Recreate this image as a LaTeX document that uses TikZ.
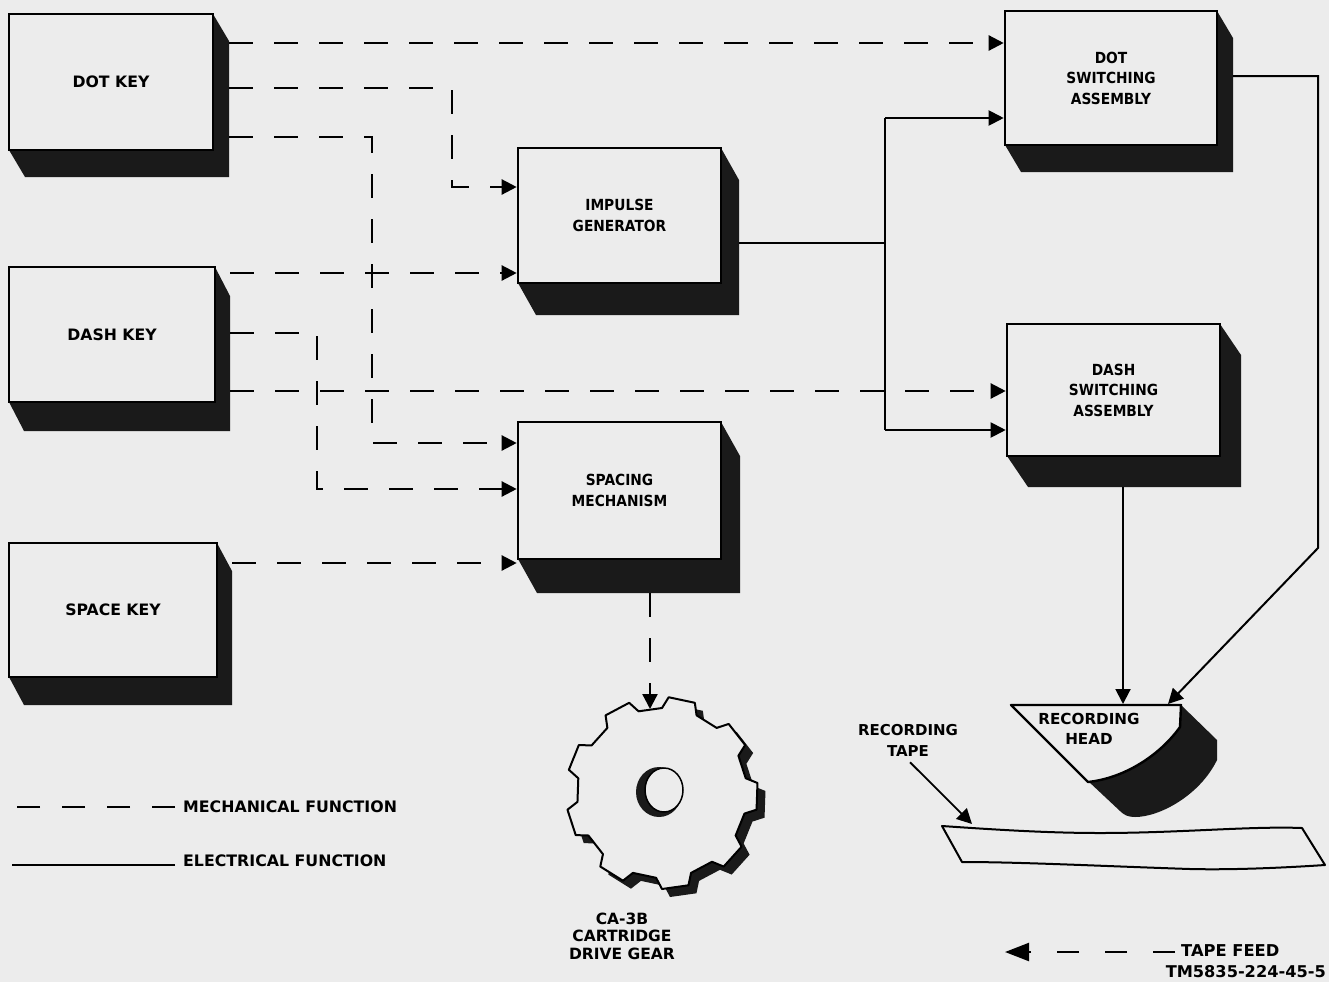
\documentclass[tikz,border=0pt]{standalone}
\usepackage{fontspec}
\setmainfont{DejaVu Sans}
\newfontfamily\boxfont{DejaVu Sans}[FakeStretch=0.9]
\usetikzlibrary{arrows.meta,calc}
\definecolor{bgc}{RGB}{236,236,236}
\definecolor{shc}{RGB}{26,26,26}
\tikzset{
  face/.style={draw=black, line width=2.6pt, fill=bgc, inner sep=0pt, align=center,
    font=\boxfont\bfseries\fontsize{15.3}{20.5}\selectfont},
  keyf/.style={font=\bfseries\fontsize{15.7}{19}\selectfont},
  mech/.style={draw=black, line width=2.3pt, dash pattern=on 24pt off 21pt},
  elec/.style={draw=black, line width=2pt},
  tip/.style={-{Triangle[length=15pt,width=15pt]}},
  lab/.style={font=\bfseries\fontsize{15.8}{18}\selectfont, inner sep=0pt, align=center},
}
% name, x1, y1, x2, y2, dx, dy, extra options, text
\newcommand{\kbox}[9]{%
  \fill[shc] (#4,#3) -- ({#4+#6},{#3+#7}) -- ({#4+#6},{#5+#7}) -- ({#2+#6},{#5+#7}) -- (#2,#5) -- cycle;
  \node[face, minimum width={(#4-#2)*1pt}, minimum height={(#5-#3)*1pt}, #8] (#1) at ({(#2+#4)/2},{(#3+#5)/2}) {#9};
  \coordinate (#1-se) at ({#4+#6},{#5+#7});
}
\begin{document}
\begin{tikzpicture}[x=1pt,y=-1pt]
\useasboundingbox (0,0) rectangle (1329,982);
\fill[bgc] (0,0) rectangle (1329,982);

% boxes
\kbox{dotkey}{9}{14}{213}{150}{16}{27}{keyf}{DOT KEY}
\kbox{dashkey}{9}{267}{215}{402}{15}{29}{keyf}{DASH KEY}
\kbox{spacekey}{9}{543}{217}{677}{15}{28}{keyf}{SPACE KEY}
\kbox{imp}{518}{148}{721}{283}{18}{32}{}{IMPULSE\\GENERATOR}
\kbox{spc}{518}{422}{721}{559}{19}{34}{}{SPACING\\MECHANISM}
\kbox{dotsw}{1005}{11}{1217}{145}{16}{27}{}{DOT\\SWITCHING\\ASSEMBLY}
\kbox{dashsw}{1007}{324}{1220}{456}{21}{31}{}{DASH\\SWITCHING\\ASSEMBLY}

% recording head
\fill[shc] (1181,705) -- (1217,740) -- (1217,760) .. controls (1200,795) and (1160,817) .. (1135,817) .. controls (1128,817) and (1124,815) .. (1120,811) -- (1088,781) -- cycle;
\filldraw[fill=bgc, line width=2.4pt, line join=round] (1011,705) -- (1181,705) -- (1180,727) .. controls (1160,755) and (1125,778) .. (1088,782) -- cycle;
\node[lab, font=\bfseries\fontsize{15.2}{20}\selectfont] (head) at (1089,729) {RECORDING\\HEAD};
\coordinate (headM) at (1123,704);
\coordinate (headR) at (1168,704);

% recording tape
\filldraw[fill=bgc, line width=2pt, line join=round] (942,826) .. controls (1000,830) and (1050,833) .. (1100,833) .. controls (1180,833) and (1250,826) .. (1302,828) -- (1325,865) .. controls (1280,868) and (1230,870) .. (1190,869) .. controls (1100,866) and (1020,862) .. (962,862) -- cycle;
\coordinate (tapetop) at (972,824);
\node[lab, font=\bfseries\fontsize{15}{21}\selectfont] (rtape) at (908,740) {RECORDING\\TAPE};
\draw[elec, line width=1.8pt, tip] ($(rtape.south)+(2,6)$) -- (tapetop);

% gear
\begin{scope}[shift={(670,801)}]
\fill[shc] (250:96) \foreach \a in {262,302,...,582} { -- ({\a-12}:96) -- ({\a-8}:85) -- ({\a+8}:85) -- ({\a+12}:96) } -- cycle;
\end{scope}
\begin{scope}[shift={(662,793)}]
\filldraw[fill=bgc, line width=2pt, line join=round] (250:96) \foreach \a in {262,302,...,582} { -- ({\a-12}:96) -- ({\a-8}:85) -- ({\a+8}:85) -- ({\a+12}:96) } -- cycle;
\fill[shc] (-3,-1) ellipse [x radius=23pt, y radius=25pt];
\filldraw[fill=bgc, line width=1.5pt] (2,-3) ellipse [x radius=19pt, y radius=22pt];
\end{scope}
\coordinate (geartop) at (650,709);
\node[lab, font=\bfseries\fontsize{15.5}{17.5}\selectfont] (gearlab) at (622,936) {CA-3B\\CARTRIDGE\\DRIVE GEAR};

% mechanical connectors
\draw[mech, tip] (dotkey-se |- 0,43) -- (dotsw.west |- 0,43);
\draw[mech, tip] (dotkey-se |- 0,88) -- (452,88) -- (452,187) -- (imp.west |- 0,187);
\draw[mech, tip] (dotkey-se |- 0,137) -- (372,137) -- (372,443) -- (spc.west |- 0,443);
\draw[mech, tip] (dashkey-se |- 0,273) -- (imp.west |- 0,273);
\draw[mech, tip] (dashkey-se |- 0,333) -- (317,333) -- (317,489) -- (spc.west |- 0,489);
\draw[mech, tip] (dashkey-se |- 0,391) -- (dashsw.west |- 0,391);
\draw[mech, tip] (spacekey-se |- 0,563) -- (spc.west |- 0,563);
\draw[mech, tip] (spc-se -| 650,0) -- (geartop);

% electrical connectors
\draw[elec] (imp-se |- 0,243) -- (885,243);
\draw[elec] (885,118) -- (885,430);
\draw[elec, tip] (885,118) -- (dotsw.west |- 0,118);
\draw[elec, tip] (885,430) -- (dashsw.west |- 0,430);
\draw[elec, tip] (dotsw-se |- 0,76) -- (1318,76) -- (1318,548) -- (headR);
\draw[elec, tip] (dashsw-se -| 1123,0) -- (headM);

% legend
\node[lab, anchor=west] (mechlab) at (183,807) {MECHANICAL FUNCTION};
\coordinate (mechend) at (12,807);
\draw[mech, dash pattern=on 23pt off 22pt] ([xshift=-8pt]mechlab.west) -- (mechend);
\node[lab, anchor=west] (eleclab) at (183,861) {ELECTRICAL FUNCTION};
\coordinate (elecend) at (12,865);
\draw[elec] (elecend -| 175,0) -- (elecend);

\node[lab, anchor=west, font=\bfseries\fontsize{16.3}{18}\selectfont] (tapefeed) at (1181,951) {TAPE FEED};
\coordinate (feedend) at (1005,952);
\draw[mech, dash pattern=on 22pt off 26pt, -{Triangle[length=24pt,width=18pt]}] (feedend -| 1175,0) -- (feedend);
\node[lab, anchor=east, font=\bfseries\fontsize{16.2}{18}\selectfont] (tm) at (1326,972) {TM5835-224-45-5};
\end{tikzpicture}
\end{document}
